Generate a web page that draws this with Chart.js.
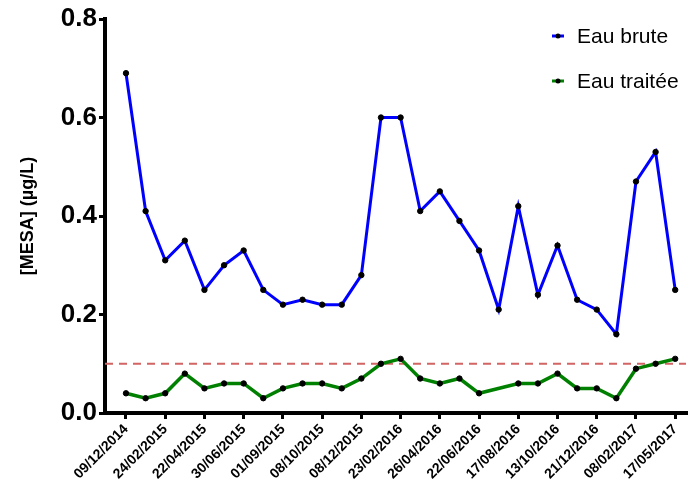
<!DOCTYPE html>
<html>
<head>
<meta charset="utf-8">
<script src="https://cdn.jsdelivr.net/npm/chart.js@4"></script>
<style>
  html, body { margin: 0; padding: 0; background: #fff; }
  #wrap { width: 691px; height: 488px; }
</style>
</head>
<body>
<div id="wrap"><canvas id="chart"></canvas></div>
<script>
// tick labels (one every second sample)
const tickLabels = ['09/12/2014', '24/02/2015', '22/04/2015', '30/06/2015', '01/09/2015',
  '08/10/2015', '08/12/2015', '23/02/2016', '26/04/2016', '22/06/2016',
  '17/08/2016', '13/10/2016', '21/12/2016', '08/02/2017', '17/05/2017'];

// MESA concentrations (µg/L), one value per sample
const eauBrute = [0.69, 0.41, 0.31, 0.35, 0.25, 0.30, 0.33, 0.25, 0.22, 0.23,
  0.22, 0.22, 0.28, 0.60, 0.60, 0.41, 0.45, 0.39, 0.33, 0.21,
  0.42, 0.24, 0.34, 0.23, 0.21, 0.16, 0.47, 0.53, 0.25];
const eauTraitee = [0.04, 0.03, 0.04, 0.08, 0.05, 0.06, 0.06, 0.03, 0.05, 0.06,
  0.06, 0.05, 0.07, 0.10, 0.11, 0.07, 0.06, 0.07, 0.04, null,
  0.06, 0.06, 0.08, 0.05, 0.05, 0.03, 0.09, 0.10, 0.11];

// quality limit
const limite = 0.1;

const xMin = -1.07, xMax = 28.55;

const toPoints = arr => arr.map((v, i) => ({ x: i, y: v }));

// legend drawn inside the plot, top right
const legendPlugin = {
  id: 'insideLegend',
  afterDraw(chart) {
    const ctx = chart.ctx;
    const items = chart.data.datasets.filter(d => !d.hideInLegend);
    ctx.save();
    ctx.font = '21px "Liberation Sans", Arial, sans-serif';
    ctx.textBaseline = 'middle';
    items.forEach((ds, i) => {
      const y = 36 + i * 45;
      const x = 552;
      ctx.strokeStyle = ds.borderColor;
      ctx.lineWidth = 3;
      ctx.beginPath();
      ctx.moveTo(x, y);
      ctx.lineTo(x + 12, y);
      ctx.stroke();
      ctx.fillStyle = '#000';
      ctx.beginPath();
      ctx.arc(x + 6, y, 2.5, 0, Math.PI * 2);
      ctx.fill();
      ctx.fillText(ds.label, 577, y + 1);
    });
    ctx.restore();
  }
};

const ctx = document.getElementById('chart').getContext('2d');
new Chart(ctx, {
  type: 'line',
  data: {
    datasets: [
      {
        label: 'Eau brute',
        data: toPoints(eauBrute),
        borderColor: '#0000ff',
        borderWidth: 3,
        pointBackgroundColor: '#000',
        pointBorderColor: '#000',
        pointBorderWidth: 1,
        pointRadius: 2.7,
        tension: 0,
        order: 1
      },
      {
        label: 'Eau traitée',
        data: toPoints(eauTraitee),
        borderColor: '#008000',
        borderWidth: 3.5,
        pointBackgroundColor: '#000',
        pointBorderColor: '#000',
        pointBorderWidth: 1,
        pointRadius: 2.7,
        spanGaps: true,
        tension: 0,
        order: 2
      },
      {
        label: 'Limite',
        hideInLegend: true,
        data: [{ x: xMin, y: limite }, { x: xMax, y: limite }],
        borderColor: '#d26464',
        borderWidth: 2,
        borderDash: [8, 6],
        pointRadius: 0,
        order: 3
      }
    ]
  },
  options: {
    responsive: true,
    maintainAspectRatio: false,
    animation: false,
    layout: { padding: { top: 19, right: 0, left: 0, bottom: 0 } },
    plugins: {
      legend: { display: false },
      tooltip: { enabled: false }
    },
    scales: {
      x: {
        type: 'linear',
        min: xMin,
        max: xMax,
        border: { color: '#000', width: 4 },
        grid: { drawOnChartArea: false, color: '#000', tickLength: 6, lineWidth: 3 },
        ticks: {
          stepSize: 2,
          includeBounds: false,
          autoSkip: false,
          maxRotation: 45,
          minRotation: 45,
          padding: 2,
          color: '#000',
          font: { family: '"Liberation Sans", Arial, sans-serif', size: 14, weight: 'bold' },
          callback: v => (v % 2 === 0 ? tickLabels[v / 2] : '')
        },
        afterFit: s => { s.height = 75; }
      },
      y: {
        min: 0,
        max: 0.8,
        border: { color: '#000', width: 4 },
        grid: { drawOnChartArea: false, color: '#000', tickLength: 6, lineWidth: 3 },
        ticks: {
          stepSize: 0.2,
          padding: 2,
          color: '#000',
          font: { family: '"Liberation Sans", Arial, sans-serif', size: 26, weight: 'bold' },
          callback: v => v.toFixed(1)
        },
        title: {
          display: true,
          text: '[MESA] (µg/L)',
          color: '#000',
          padding: { top: 17, bottom: 0 },
          font: { family: '"Liberation Sans", Arial, sans-serif', size: 18, weight: 'bold' }
        },
        afterFit: s => { s.width = 105; }
      }
    }
  },
  plugins: [legendPlugin]
});
</script>
</body>
</html>
